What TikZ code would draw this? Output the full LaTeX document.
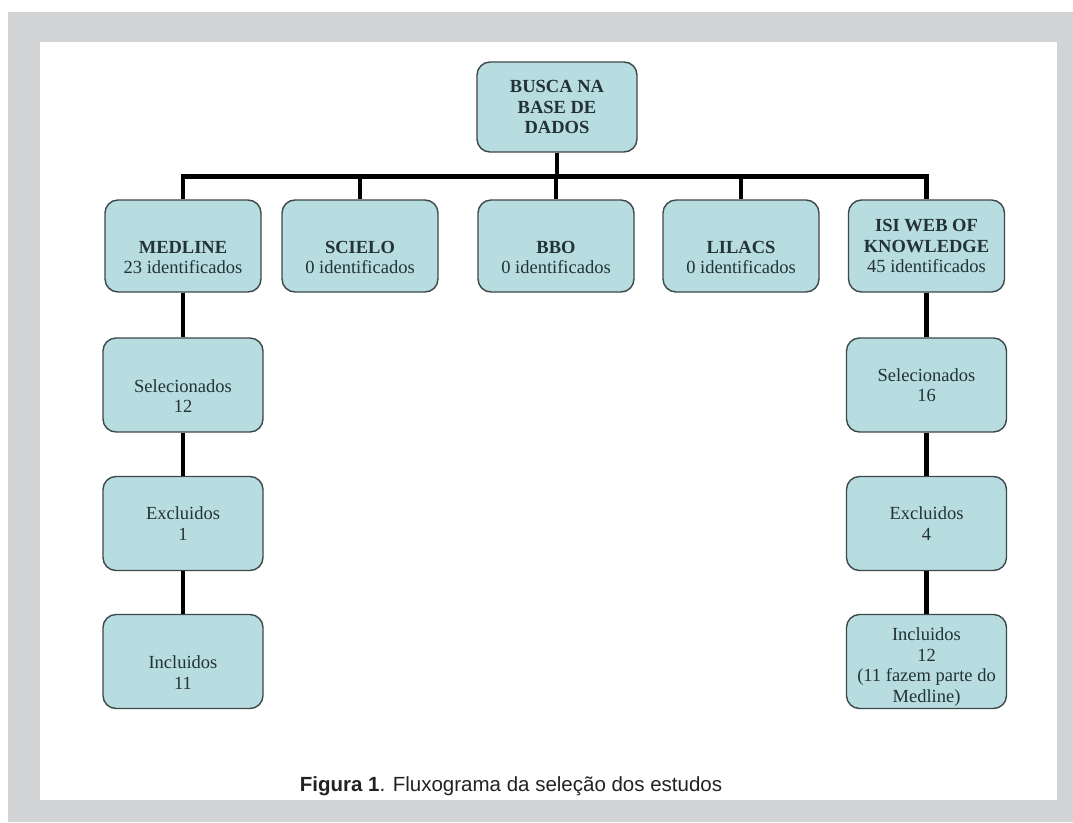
\documentclass[tikz,border=0pt]{standalone}
\usepackage{fontspec}
\setmainfont{Liberation Serif}
\setsansfont{Liberation Sans}
\newcommand{\bxfont}{\fontsize{18.5}{20.5}\selectfont}
\definecolor{pagegray}{RGB}{209,211,212}
\definecolor{boxfill}{RGB}{183,221,225}
\definecolor{boxline}{RGB}{62,72,74}
\definecolor{boxtext}{RGB}{35,50,55}
\definecolor{capcol}{RGB}{34,34,34}
\tikzset{
  box/.style={draw=boxline, fill=boxfill, line width=1.4pt, rounded corners=13pt,
    minimum width=156pt, minimum height=92pt, inner xsep=3pt, align=center,
    font=\bxfont, text=boxtext},
  lowbox/.style={box, minimum width=160pt, minimum height=94pt},
  link/.style={line width=4.5pt, black}
}
\begin{document}
\begin{tikzpicture}[x=1pt,y=-1pt]
      \useasboundingbox (0,0) rectangle (1073,822);
      \fill[white] (0,0) rectangle (1073,822);
      \fill[pagegray] (8,12) rectangle (1073,822);
      \fill[white] (40,42) rectangle (1057,800);
      % root and data bases
      \node[box, minimum width=160pt, minimum height=90pt] (busca) at (557,107)
        {\textbf{BUSCA NA}\\\textbf{BASE DE}\\\textbf{DADOS}};
      \node[box] (medline) at (183,246) {\strut\\\textbf{MEDLINE}\\23 identificados};
      \node[box] (scielo) at (360,246) {\strut\\\textbf{SCIELO}\\0 identificados};
      \node[box] (bbo) at (556,246) {\strut\\\textbf{BBO}\\0 identificados};
      \node[box] (lilacs) at (741,246) {\strut\\\textbf{LILACS}\\0 identificados};
      \node[box] (isi) at (926.5,246) {\textbf{ISI WEB OF}\\\textbf{KNOWLEDGE}\\45 identificados};
      % MEDLINE column
      \node[lowbox] (selm) at (183,385) {\strut\\Selecionados\\12};
      \node[lowbox] (excm) at (183,523.5) {Excluidos\\1};
      \node[lowbox] (incm) at (183,661.5) {\strut\\Incluidos\\11};
      % ISI column
      \node[lowbox] (seli) at (926.5,385) {Selecionados\\16};
      \node[lowbox] (exci) at (926.5,523.5) {Excluidos\\4};
      \node[lowbox, path picture={
          \node[font=\bxfont, text=boxtext, align=center, yshift=-5.5pt] (incitext)
            at (path picture bounding box.center)
            {Incluidos\\12\\(11 fazem parte do\\Medline)};
        }] (inci) at (926.5,661.5) {};
      \node[font=\sffamily\fontsize{20.5}{24}\selectfont, text=capcol, anchor=base] (legenda)
        at (511,791) {\textbf{Figura 1}. Fluxograma da seleção dos estudos};
      \begin{scope}
        \foreach \db in {medline,scielo,bbo,lilacs,isi}
          \draw[link] (busca.south) -- ++(0,24) -| (\db.north);
        \draw[link] (medline) -- (selm);
        \draw[link] (selm) -- (excm);
        \draw[link] (excm) -- (incm);
        \draw[link] (isi) -- (seli);
        \draw[link] (seli) -- (exci);
        \draw[link] (exci) -- (inci);
      \end{scope}
    \end{tikzpicture}
\end{document}
